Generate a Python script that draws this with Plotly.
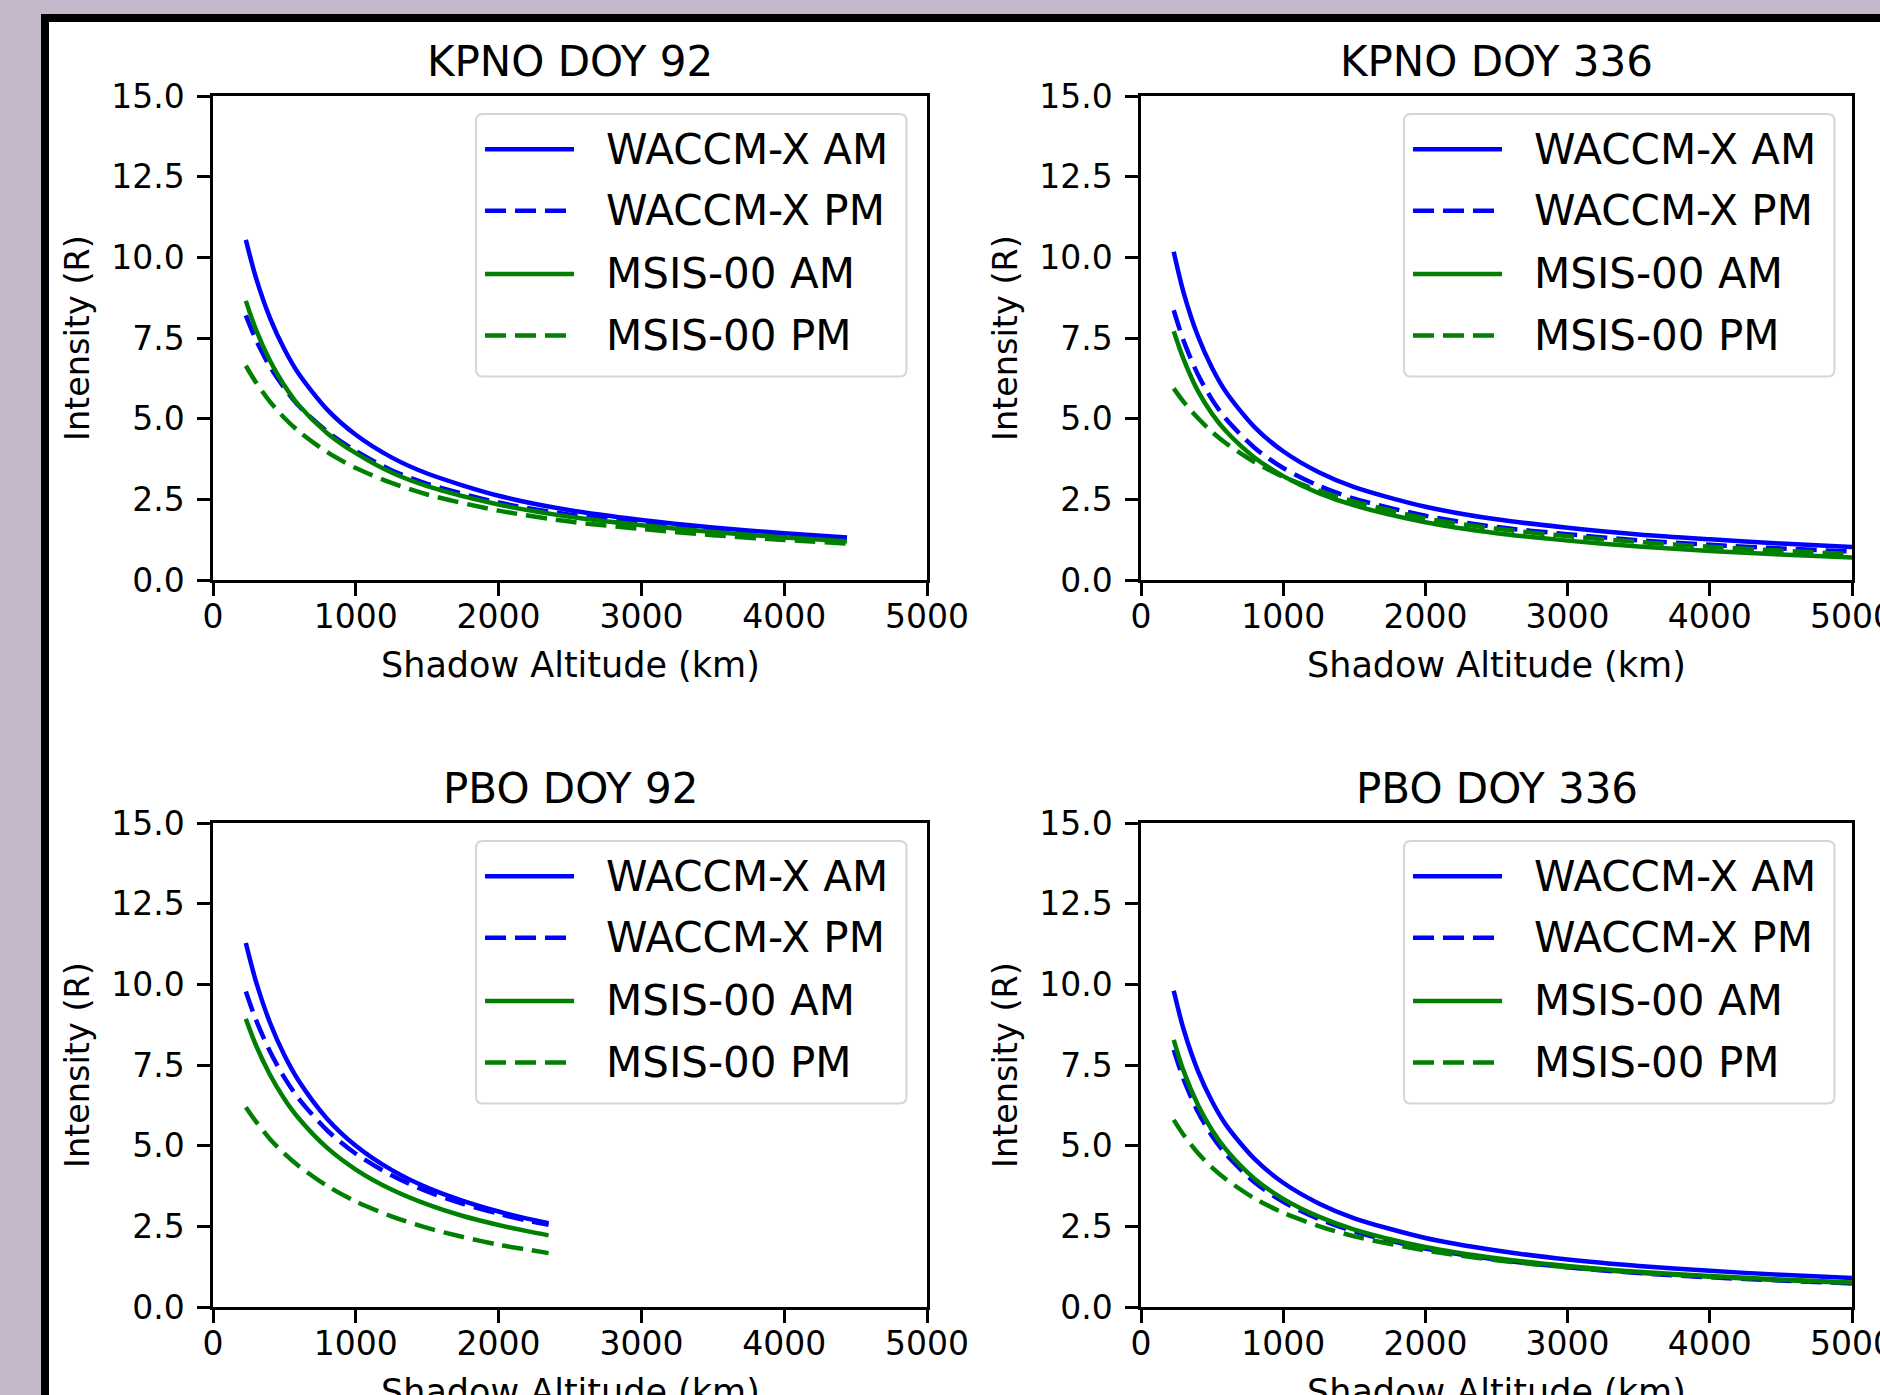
import plotly.graph_objects as go

W, H = 1880, 1395

# ---------------- data ----------------
panel_titles = ["KPNO DOY 92", "KPNO DOY 336", "PBO DOY 92", "PBO DOY 336"]
series_names = ["WACCM-X AM", "WACCM-X PM", "MSIS-00 AM", "MSIS-00 PM"]

x_tick_vals = [0, 1000, 2000, 3000, 4000, 5000]
x_tick_text = ["0", "1000", "2000", "3000", "4000", "5000"]
y_tick_vals = [0, 2.5, 5, 7.5, 10, 12.5, 15]
y_tick_text = ["0.0", "2.5", "5.0", "7.5", "10.0", "12.5", "15.0"]

# KPNO DOY 92
x_kpno92 = [230, 300, 400, 500, 600, 800, 1000, 1250, 1500, 2000, 2500, 3000, 3500, 4000, 4440]
kpno92_waccm_am = [10.54, 9.38, 8.11, 7.15, 6.39, 5.28, 4.5, 3.8, 3.3, 2.61, 2.16, 1.86, 1.63, 1.45, 1.32]
kpno92_waccm_pm = [8.2, 7.45, 6.6, 5.95, 5.4, 4.6, 4.0, 3.4, 2.98, 2.4, 2.02, 1.76, 1.55, 1.38, 1.25]
kpno92_msis_am = [8.65, 7.77, 6.79, 6.03, 5.42, 4.55, 3.93, 3.33, 2.91, 2.34, 1.96, 1.7, 1.49, 1.32, 1.2]
kpno92_msis_pm = [6.64, 6.13, 5.52, 5.02, 4.61, 3.96, 3.47, 3.01, 2.65, 2.15, 1.81, 1.58, 1.39, 1.24, 1.13]

# KPNO DOY 336
x_kpno336 = [230, 300, 400, 500, 600, 800, 1000, 1250, 1500, 2000, 2500, 3000, 3500, 4000, 4500, 5000]
kpno336_waccm_am = [10.17, 8.9, 7.56, 6.57, 5.81, 4.73, 3.99, 3.34, 2.88, 2.27, 1.88, 1.62, 1.41, 1.26, 1.13, 1.02]
kpno336_waccm_pm = [8.36, 7.41, 6.37, 5.59, 4.98, 4.09, 3.47, 2.92, 2.52, 1.99, 1.64, 1.42, 1.23, 1.09, 0.98, 0.88]
kpno336_msis_am = [7.71, 6.84, 5.86, 5.15, 4.6, 3.79, 3.22, 2.69, 2.31, 1.79, 1.45, 1.22, 1.04, 0.9, 0.79, 0.7]
kpno336_msis_pm = [5.94, 5.52, 5.02, 4.59, 4.23, 3.65, 3.2, 2.77, 2.43, 1.91, 1.59, 1.36, 1.18, 1.03, 0.91, 0.8]

# PBO DOY 92
x_pbo92 = [230, 300, 400, 500, 600, 800, 1000, 1250, 1500, 1750, 2000, 2200, 2350]
pbo92_waccm_am = [11.28, 10.1, 8.8, 7.8, 7.01, 5.83, 5.0, 4.25, 3.7, 3.29, 2.96, 2.74, 2.6]
pbo92_waccm_pm = [9.78, 8.91, 7.91, 7.11, 6.46, 5.47, 4.75, 4.08, 3.58, 3.2, 2.89, 2.68, 2.55]
pbo92_msis_am = [8.93, 8.12, 7.19, 6.45, 5.85, 4.93, 4.26, 3.64, 3.18, 2.82, 2.54, 2.35, 2.22]
pbo92_msis_pm = [6.19, 5.75, 5.2, 4.75, 4.37, 3.75, 3.27, 2.81, 2.45, 2.17, 1.93, 1.78, 1.67]

# PBO DOY 336
x_pbo336 = [230, 300, 400, 500, 600, 800, 1000, 1250, 1500, 2000, 2500, 3000, 3500, 4000, 4500, 5000]
pbo336_waccm_am = [9.8, 8.6, 7.32, 6.37, 5.63, 4.58, 3.85, 3.21, 2.75, 2.14, 1.75, 1.47, 1.27, 1.12, 1.0, 0.9]
pbo336_waccm_pm = [7.97, 7.05, 6.05, 5.3, 4.72, 3.86, 3.26, 2.73, 2.34, 1.81, 1.47, 1.23, 1.05, 0.92, 0.82, 0.73]
pbo336_msis_am = [8.28, 7.31, 6.27, 5.48, 4.87, 3.97, 3.35, 2.8, 2.4, 1.86, 1.51, 1.27, 1.09, 0.96, 0.85, 0.76]
pbo336_msis_pm = [5.8, 5.33, 4.77, 4.32, 3.95, 3.36, 2.92, 2.51, 2.19, 1.75, 1.45, 1.23, 1.06, 0.94, 0.83, 0.75]

panel_x = [x_kpno92, x_kpno336, x_pbo92, x_pbo336]
panel_series = [
    [kpno92_waccm_am, kpno92_waccm_pm, kpno92_msis_am, kpno92_msis_pm],
    [kpno336_waccm_am, kpno336_waccm_pm, kpno336_msis_am, kpno336_msis_pm],
    [pbo92_waccm_am, pbo92_waccm_pm, pbo92_msis_am, pbo92_msis_pm],
    [pbo336_waccm_am, pbo336_waccm_pm, pbo336_msis_am, pbo336_msis_pm],
]

# ---------------- styles ----------------
BLUE = "#0000ff"
GREEN = "#008000"
DASH = "21px,9px"
series_colors = [BLUE, BLUE, GREEN, GREEN]
series_dash = ["solid", DASH, "solid", DASH]
LW = 4.5
FONT = "DejaVu Sans"
BG = "#c5b8cb"

# axes pixel boxes (left, right, top, bottom)
boxes = [
    (213, 927, 96, 580),
    (1141, 1852, 96, 580),
    (213, 927, 823, 1307),
    (1141, 1852, 823, 1307),
]

fig = go.Figure()

for i in range(4):
    sfx = "" if i == 0 else str(i + 1)
    xa, ya = "x" + sfx, "y" + sfx
    for k in range(4):
        fig.add_trace(go.Scatter(
            x=panel_x[i], y=panel_series[i][k], mode="lines",
            line=dict(color=series_colors[k], width=LW, dash=series_dash[k], shape="spline", smoothing=0.8),
            xaxis=xa, yaxis=ya, showlegend=False, name=series_names[k],
        ))

layout = dict(
    width=W, height=H, margin=dict(l=0, r=0, t=0, b=0),
    paper_bgcolor=BG, plot_bgcolor="white", showlegend=False,
    font=dict(family=FONT, color="black"),
)

axis_line = dict(showgrid=False, zeroline=False, showline=True, mirror=True,
                 linecolor="black", linewidth=2.5, ticks="outside", ticklen=13,
                 tickwidth=2.5, tickcolor="black", automargin=False, fixedrange=True,
                 tickfont=dict(family=FONT, size=33, color="black"), tickmode="array",
                 ticklabeloverflow="allow")

for i, (l, r, t, b) in enumerate(boxes):
    sfx = "" if i == 0 else str(i + 1)
    layout["xaxis" + sfx] = dict(axis_line, domain=[l / W, r / W], anchor="y" + sfx,
                                  range=[0, 5000], tickvals=x_tick_vals, ticktext=x_tick_text,
                                  ticklabelstandoff=-7)
    layout["yaxis" + sfx] = dict(axis_line, domain=[1 - b / H, 1 - t / H], anchor="x" + sfx,
                                  range=[0, 15], tickvals=y_tick_vals, ticktext=y_tick_text,
                                  ticklabelstandoff=6)

fig.update_layout(**layout)

shapes = []
annotations = []

# slide frame: white panel with thick black border
shapes.append(dict(type="rect", xref="paper", yref="paper", layer="below",
                   x0=45 / W, x1=1.05, y0=-0.05, y1=1 - 18 / H,
                   line=dict(color="black", width=8), fillcolor="white"))

leg_rows = [0.8901, 0.7630, 0.6324, 0.5052]
for i, (l, r, t, b) in enumerate(boxes):
    sfx = "" if i == 0 else str(i + 1)
    xd, yd = "x" + sfx + " domain", "y" + sfx + " domain"
    aw, ah = r - l, b - t
    # titles and axis titles
    annotations.append(dict(xref=xd, yref=yd, x=0.5, y=1 + 34.5 / ah, text=panel_titles[i],
                            showarrow=False, xanchor="center", yanchor="middle",
                            font=dict(family=FONT, size=42, color="black")))
    annotations.append(dict(xref=xd, yref=yd, x=0.5, y=-85 / ah, text="Shadow Altitude (km)",
                            showarrow=False, xanchor="center", yanchor="middle",
                            font=dict(family=FONT, size=35, color="black")))
    annotations.append(dict(xref=xd, yref=yd, x=-136 / aw, y=0.5, text="Intensity (R)",
                            showarrow=False, xanchor="center", yanchor="middle", textangle=-90,
                            font=dict(family=FONT, size=33.5, color="black")))
    # legend box (rounded)
    x0, x1 = 263 / aw, 693.5 / aw
    y0, y1 = 1 - 280.4 / ah, 1 - 18 / ah
    rx, ry = 7 / aw, 7 / ah
    path = (f"M {x0+rx},{y1} L {x1-rx},{y1} Q {x1},{y1} {x1},{y1-ry} L {x1},{y0+ry} "
            f"Q {x1},{y0} {x1-rx},{y0} L {x0+rx},{y0} Q {x0},{y0} {x0},{y0+ry} "
            f"L {x0},{y1-ry} Q {x0},{y1} {x0+rx},{y1} Z")
    shapes.append(dict(type="path", path=path, xref=xd, yref=yd, layer="above",
                       fillcolor="rgba(255,255,255,0.8)", line=dict(color="#d6d6d6", width=2)))
    for k in range(4):
        shapes.append(dict(type="line", xref=xd, yref=yd, layer="above",
                           x0=272 / aw, x1=361 / aw, y0=leg_rows[k], y1=leg_rows[k],
                           line=dict(color=series_colors[k], width=LW, dash=series_dash[k])))
        annotations.append(dict(xref=xd, yref=yd, x=391 / aw, y=leg_rows[k], text=series_names[k],
                                showarrow=False, xanchor="left", yanchor="middle",
                                font=dict(family=FONT, size=42, color="black")))

fig.update_layout(shapes=shapes, annotations=annotations)
fig.write_html("out.html",
               config={"displayModeBar": False},
               post_script="document.body.style.margin='0px';"
                           "document.body.style.backgroundColor='" + BG + "';")
